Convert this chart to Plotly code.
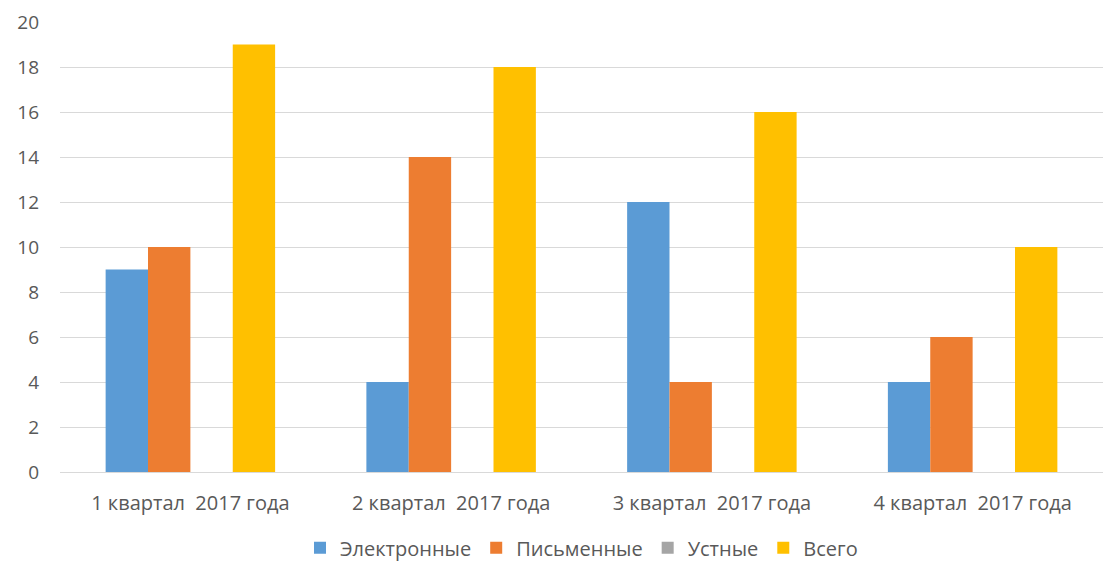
import plotly.graph_objects as go

categories = ["1 квартал  2017 года", "2 квартал  2017 года", "3 квартал  2017 года", "4 квартал  2017 года"]
series_names = ["Электронные", "Письменные", "Устные", "Всего"]
electronic = [9, 4, 12, 4]
written = [10, 14, 4, 6]
oral = [0, 0, 0, 0]
total = [19, 18, 16, 10]
colors = ["#5B9BD5", "#ED7D31", "#A5A5A5", "#FFC000"]

fig = go.Figure()
for name, vals, c in zip(series_names, [electronic, written, oral, total], colors):
    fig.add_trace(go.Bar(x=categories, y=vals, name=name, marker=dict(color=c, line=dict(width=0))))

fig.update_layout(
    width=1114, height=567,
    barmode="group", bargap=0.35, bargroupgap=0,
    paper_bgcolor="white", plot_bgcolor="white",
    margin=dict(l=60, r=11, t=22, b=95, autoexpand=False),
    font=dict(family="Open Sans, Liberation Sans, sans-serif", size=20, color="#595959"),
    xaxis=dict(showgrid=False, showline=False, ticks="", automargin=False,
               tickfont=dict(size=20, color="#595959"), ticklabelstandoff=17),
    yaxis=dict(range=[0, 20], dtick=2, showgrid=True, gridcolor="#D9D9D9", gridwidth=1,
               zeroline=True, zerolinecolor="#D9D9D9", zerolinewidth=1, automargin=False,
               tickfont=dict(size=19, color="#595959"), ticklabelstandoff=20),
    legend=dict(orientation="h", x=0.5, xanchor="center", yref="container", y=0.034, yanchor="middle",
                font=dict(size=20, color="#595959"), itemwidth=30, tracegroupgap=0),
    showlegend=True,
)
post = (
    "document.documentElement.style.margin='0';document.documentElement.style.padding='0';"
    "document.documentElement.style.height='567px';document.documentElement.style.overflow='hidden';"
    "document.body.style.margin='0';document.body.style.padding='0';"
    "document.body.style.height='567px';document.body.style.overflow='hidden';"
    "var d=document.querySelector('.plotly-graph-div');"
    "d.style.position='fixed';d.style.top='0';d.style.left='0';"
)
fig.write_html("out.html", post_script=post, config={"displayModeBar": False})
